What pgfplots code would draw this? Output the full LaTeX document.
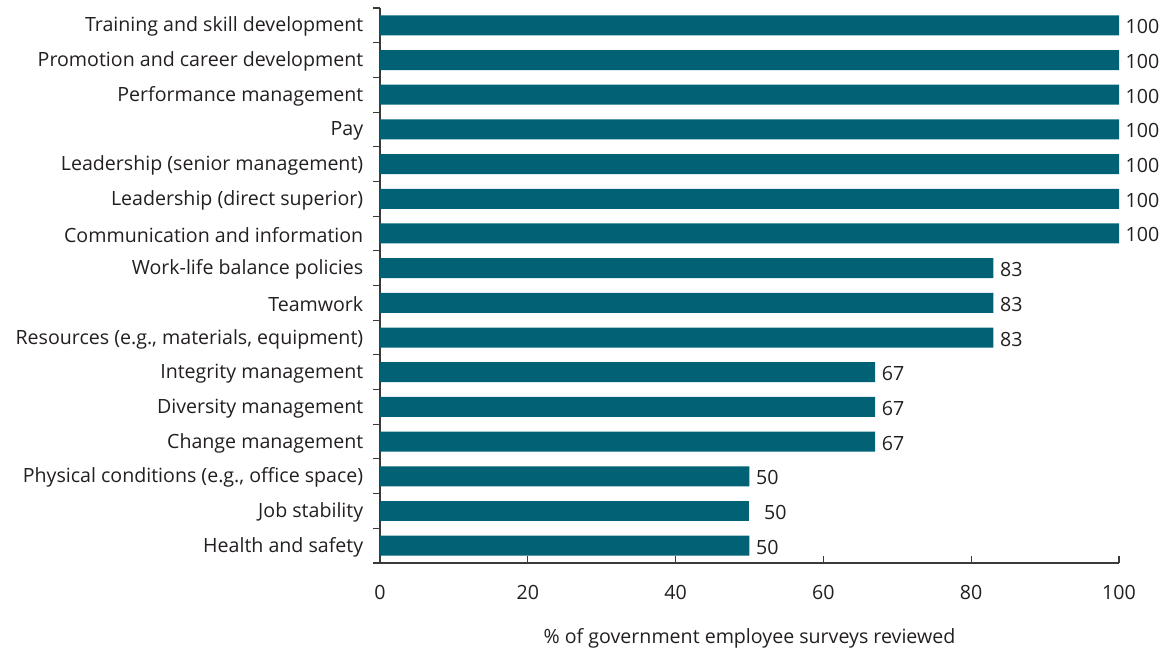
\documentclass[border=0pt]{standalone}
\usepackage{pgfplots}
\pgfplotsset{compat=1.18}
\usepackage{fontspec}
\setmainfont{Open Sans}
\definecolor{barteal}{HTML}{006274}
\definecolor{txt}{HTML}{231F20}
\definecolor{axl}{HTML}{3A3A3A}
\newcommand{\fs}{\fontsize{19.6bp}{23bp}\selectfont}
\begin{document}
\fs
\begin{tikzpicture}
\begin{axis}[
  at={(0,0)}, anchor=south west,
  scale only axis, width=739bp, height=555bp,
  xbar, bar width=20bp, bar shift=0pt,
  xmin=0, xmax=100, ymin=-0.5, ymax=15.5, y dir=reverse,
  axis x line*=bottom, axis y line*=left,
  axis line style={draw=axl, line width=1.1bp},
  xtick={0,20,...,100},
  ytick={0,...,15},
  minor ytick={-0.5,0.5,...,15.5},
  yticklabels={Training and skill development,Promotion and career development,Performance management,Pay,Leadership (senior management),Leadership (direct superior),Communication and information,Work-life balance policies,Teamwork,{Resources (e.g., materials, equipment)},Integrity management\hspace{5bp},Diversity management,Change management,{Physical conditions (e.g., office space)},Job stability,Health and safety\hspace{5bp}},
  tick align=inside,
  major tick length=7bp, minor tick length=7bp,
  major y tick style={draw=none},
  minor y tick style={draw=axl, line width=1.1bp, xshift=-7bp},
  major x tick style={draw=axl, line width=1.1bp},
  tick label style={text=txt, font=\fs},
  /pgf/number format/assume math mode=true,
  yticklabel style={xshift=-10bp, yshift=-1.5bp},
  xticklabel style={yshift=-16bp},
  xlabel={\% of government employee surveys reviewed},
  x label style={at={(axis description cs:0.5,0)}, anchor=center, yshift=-75bp, text=txt, font=\fs},
  nodes near coords,
  nodes near coords align=horizontal,
  every node near coord/.append style={anchor=west, text=txt, font=\fs, yshift=-1.5bp},
]
\addplot[fill=barteal, draw=none] coordinates {
  (100,0) (100,1) (100,2) (100,3) (100,4) (100,5) (100,6)
  (83,7) (83,8) (83,9) (67,10) (67,11) (67,12) (50,13) (50,15)
};
\addplot[fill=barteal, draw=none, every node near coord/.append style={xshift=8bp}] coordinates {
  (50,14)
};
\end{axis}
\pgfresetboundingbox
\useasboundingbox (-380bp,-86bp) rectangle (781bp,563bp);
\end{tikzpicture}
\end{document}
